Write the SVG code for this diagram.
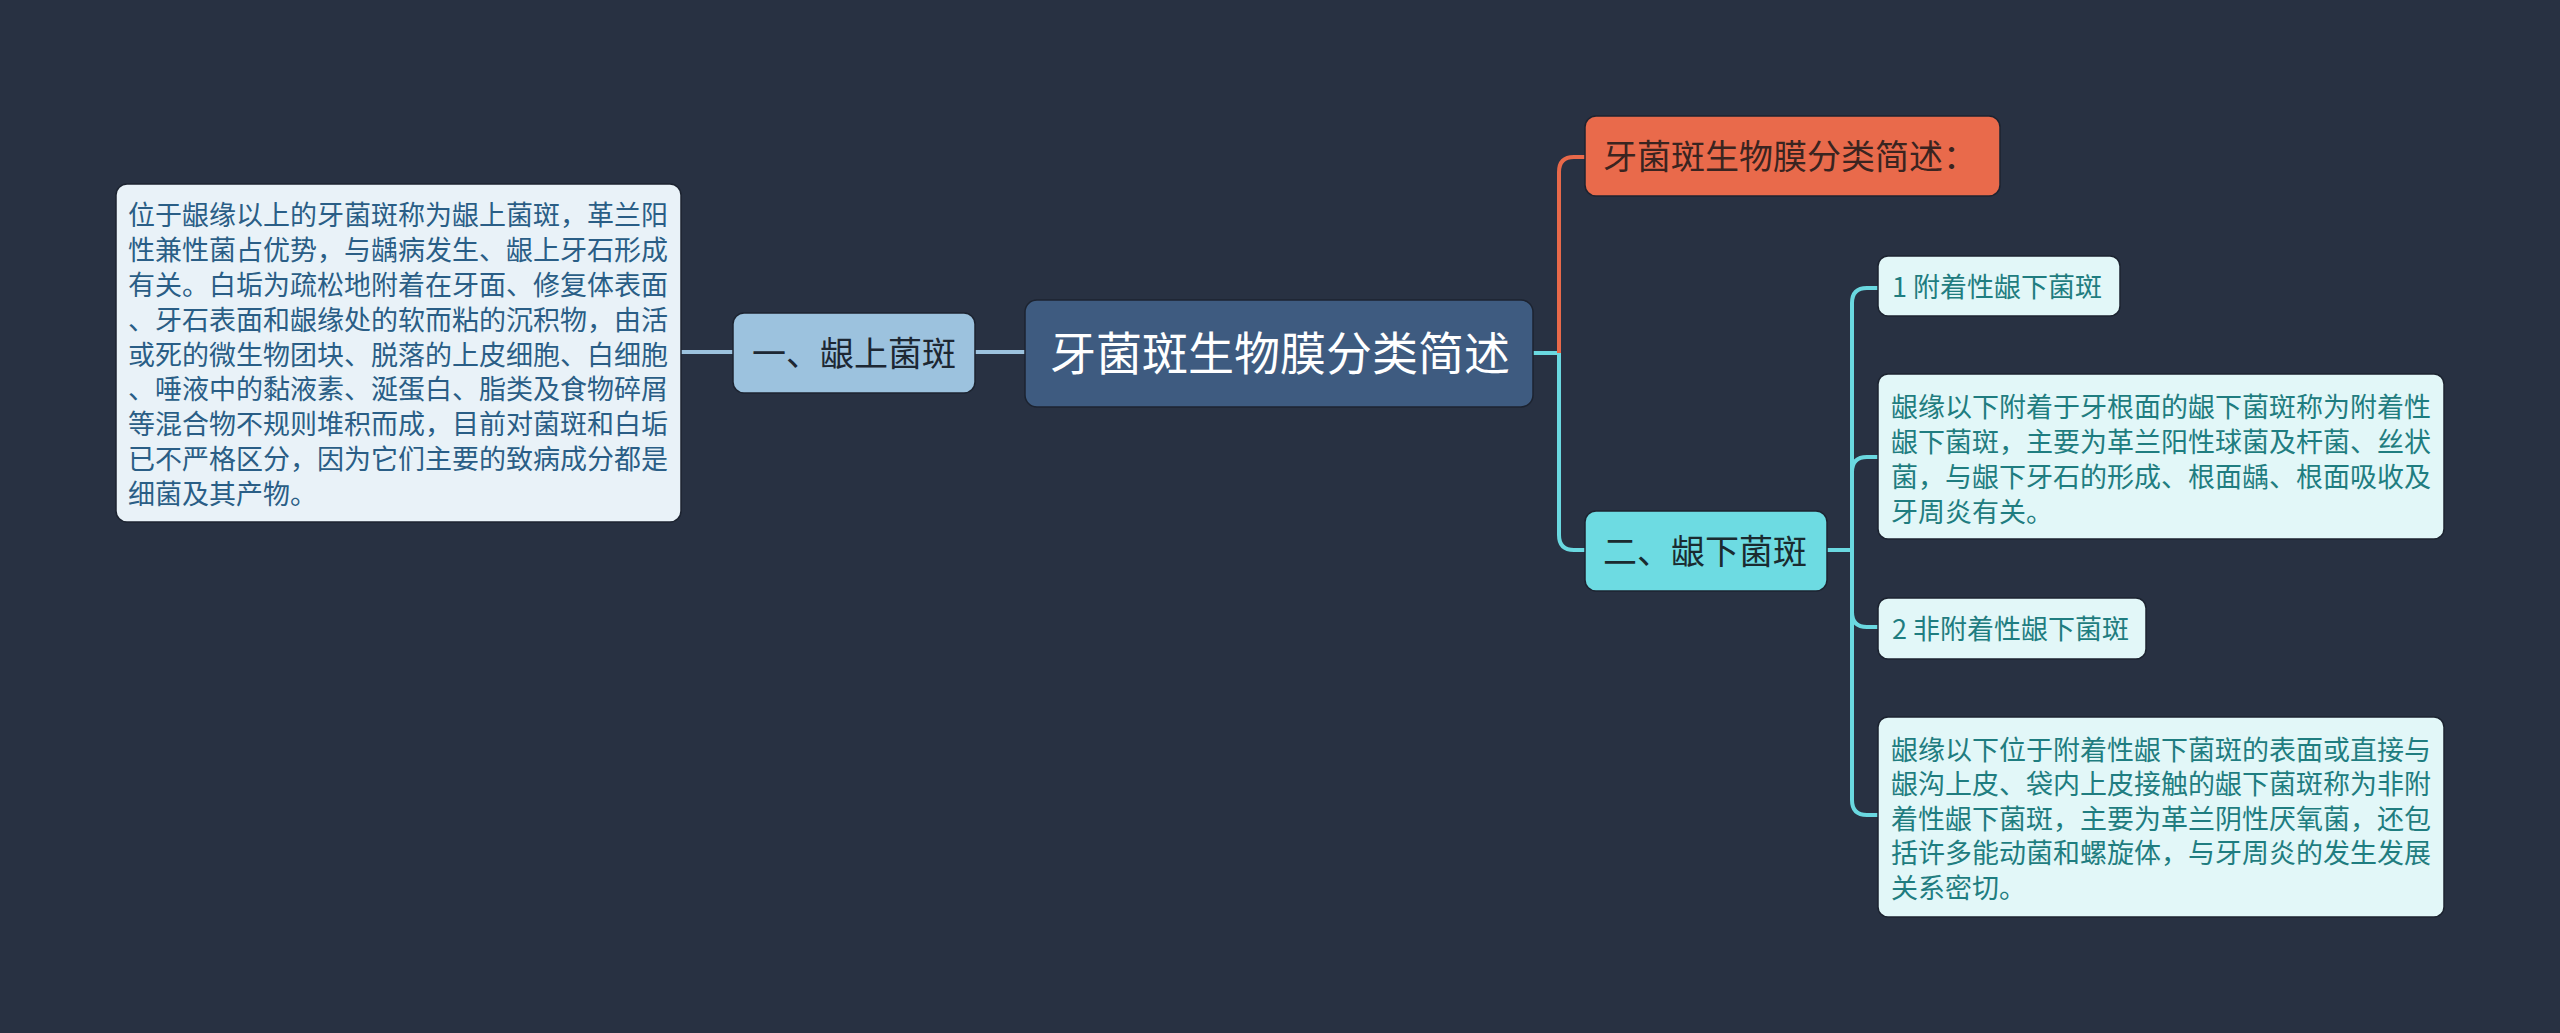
<svg xmlns="http://www.w3.org/2000/svg" width="2560" height="1033" viewBox="0 0 2560 1033">
<style>
text{font-family:"Noto Sans CJK SC","Noto Sans",sans-serif}
.box{stroke:#1c2330;stroke-width:1.5}
.leaf{fill:#e2f7f8}
.leaft{fill:#1f7d80;font-size:27px}
.lt{fill:#2a5e86;font-size:27px}
.conL{stroke:#9cc2de;stroke-width:4;fill:none}
.conC{stroke:#6ad8e0;stroke-width:4;fill:none}
.conO{stroke:#e8694a;stroke-width:4;fill:none}
</style>
<rect width="2560" height="1033" fill="#283142"/>
<g id="connectors">
<path class="conL" d="M681,352H733M975,352H1025"/>
<path class="conC" d="M1533,353H1559"/>
<path class="conO" d="M1559,353V172Q1559,157 1574,157H1585"/>
<path class="conC" d="M1559,353V535Q1559,550 1574,550H1585"/>
<path class="conC" d="M1827,550H1852"/>
<path class="conC" d="M1852,550V303Q1852,288 1867,288H1878M1852,550V472Q1852,457 1867,457H1878M1852,550V612Q1852,627 1867,627H1878M1852,550V800Q1852,815 1867,815H1878"/>
</g>
<g id="root">
<rect class="box" x="1025" y="300" width="508" height="107" rx="12" fill="#3e5b80"/>
<text x="1280" y="370" font-size="46" fill="#ffffff" text-anchor="middle">牙菌斑生物膜分类简述</text>
</g>
<g id="n1">
<rect class="box" x="733" y="313" width="242" height="80" rx="11" fill="#9cc2de"/>
<text x="854" y="366" font-size="34" fill="#1d2733" text-anchor="middle">一、龈上菌斑</text>
</g>
<g id="n1-detail">
<rect class="box" x="116" y="184" width="565" height="338" rx="11" fill="#e9f2f8"/>
<text class="lt" x="128" y="225">位于龈缘以上的牙菌斑称为龈上菌斑，革兰阳</text>
<text class="lt" x="128" y="260">性兼性菌占优势，与龋病发生、龈上牙石形成</text>
<text class="lt" x="128" y="295">有关。白垢为疏松地附着在牙面、修复体表面</text>
<text class="lt" x="128" y="330">、牙石表面和龈缘处的软而粘的沉积物，由活</text>
<text class="lt" x="128" y="365">或死的微生物团块、脱落的上皮细胞、白细胞</text>
<text class="lt" x="128" y="399">、唾液中的黏液素、涎蛋白、脂类及食物碎屑</text>
<text class="lt" x="128" y="434">等混合物不规则堆积而成，目前对菌斑和白垢</text>
<text class="lt" x="128" y="469">已不严格区分，因为它们主要的致病成分都是</text>
<text class="lt" x="128" y="504">细菌及其产物。</text>
</g>
<g id="n-summary">
<rect class="box" x="1585" y="116" width="415" height="80" rx="11" fill="#e96a4b"/>
<text x="1603" y="169" font-size="34" fill="#3a2420">牙菌斑生物膜分类简述：</text>
</g>
<g id="n2">
<rect class="box" x="1585" y="511" width="242" height="80" rx="11" fill="#6ddbe2"/>
<text x="1603" y="564" font-size="34" fill="#1a2b30">二、龈下菌斑</text>
</g>
<g id="c1">
<rect class="box leaf" x="1878" y="256" width="242" height="60" rx="10"/>
<text class="leaft" x="1892" y="297">1 附着性龈下菌斑</text>
</g>
<g id="c1-detail">
<rect class="box leaf" x="1878" y="374" width="566" height="165" rx="10"/>
<text class="leaft" x="1891" y="417">龈缘以下附着于牙根面的龈下菌斑称为附着性</text>
<text class="leaft" x="1891" y="452">龈下菌斑，主要为革兰阳性球菌及杆菌、丝状</text>
<text class="leaft" x="1891" y="487">菌，与龈下牙石的形成、根面龋、根面吸收及</text>
<text class="leaft" x="1891" y="522">牙周炎有关。</text>
</g>
<g id="c2">
<rect class="box leaf" x="1878" y="598" width="268" height="61" rx="10"/>
<text class="leaft" x="1892" y="639">2 非附着性龈下菌斑</text>
</g>
<g id="c2-detail">
<rect class="box leaf" x="1878" y="717" width="566" height="200" rx="10"/>
<text class="leaft" x="1891" y="760">龈缘以下位于附着性龈下菌斑的表面或直接与</text>
<text class="leaft" x="1891" y="794">龈沟上皮、袋内上皮接触的龈下菌斑称为非附</text>
<text class="leaft" x="1891" y="829">着性龈下菌斑，主要为革兰阴性厌氧菌，还包</text>
<text class="leaft" x="1891" y="863">括许多能动菌和螺旋体，与牙周炎的发生发展</text>
<text class="leaft" x="1891" y="898">关系密切。</text>
</g>
</svg>
